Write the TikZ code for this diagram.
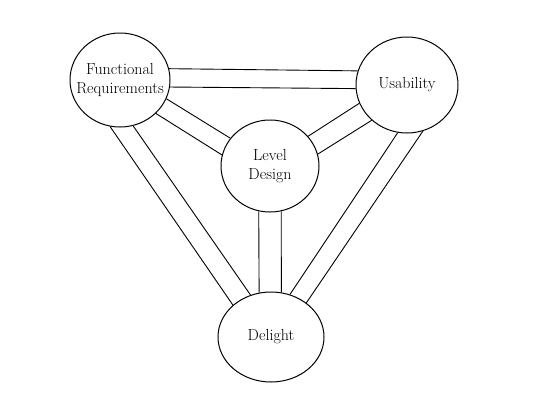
\documentclass[tikz,border=0pt]{standalone}
\usetikzlibrary{shapes.geometric}
\begin{document}
\begin{tikzpicture}[x=1pt,y=-1pt,
  blob/.style={draw, ellipse, line width=1pt, inner sep=0pt},
  lbl/.style={align=center, inner sep=0pt, font=\fontsize{16}{19}\selectfont},
  wire/.style={line width=0.9pt}]
\useasboundingbox (0,0) rectangle (549,402);
% circles
\node[blob, minimum width=100pt, minimum height=94pt] (fr) at (120,80) {};
\node[blob, minimum width=102pt, minimum height=96pt] (us) at (407,85) {};
\node[blob, minimum width=98pt, minimum height=92pt] (ld) at (270,166) {};
\node[blob, minimum width=106pt, minimum height=90pt] (de) at (271,337) {};
% labels
\node[lbl] (frl) at (fr) {Functional\\Requirements};
\node[lbl] (usl) at (us) {Usability};
\node[lbl] (ldl) at (ld) {Level\\Design};
\node[lbl] (del) at (de) {Delight};
% FR -- Usability
\draw[wire] (fr.13.5) -- (us.164);
\draw[wire] (fr.-8) -- (us.-176);
% FR -- Level Design
\draw[wire] (fr.-22.6) -- (ld.145.6);
\draw[wire] (fr.-43.4) -- (ld.167);
% Usability -- Level Design
\draw[wire] (us.201.6) -- (ld.38);
\draw[wire] (us.225) -- (ld.14.6);
% Level Design -- Delight
\draw[wire] (ld.256) -- (de.105.6);
\draw[wire] (ld.284) -- (de.77);
% FR -- Delight
\draw[wire] (fr.-102) -- (de.140);
\draw[wire] (fr.-74) -- (de.116.6);
% Usability -- Delight
\draw[wire] (us.259) -- (de.66.8);
\draw[wire] (us.289.6) -- (de.44);
\end{tikzpicture}
\end{document}
